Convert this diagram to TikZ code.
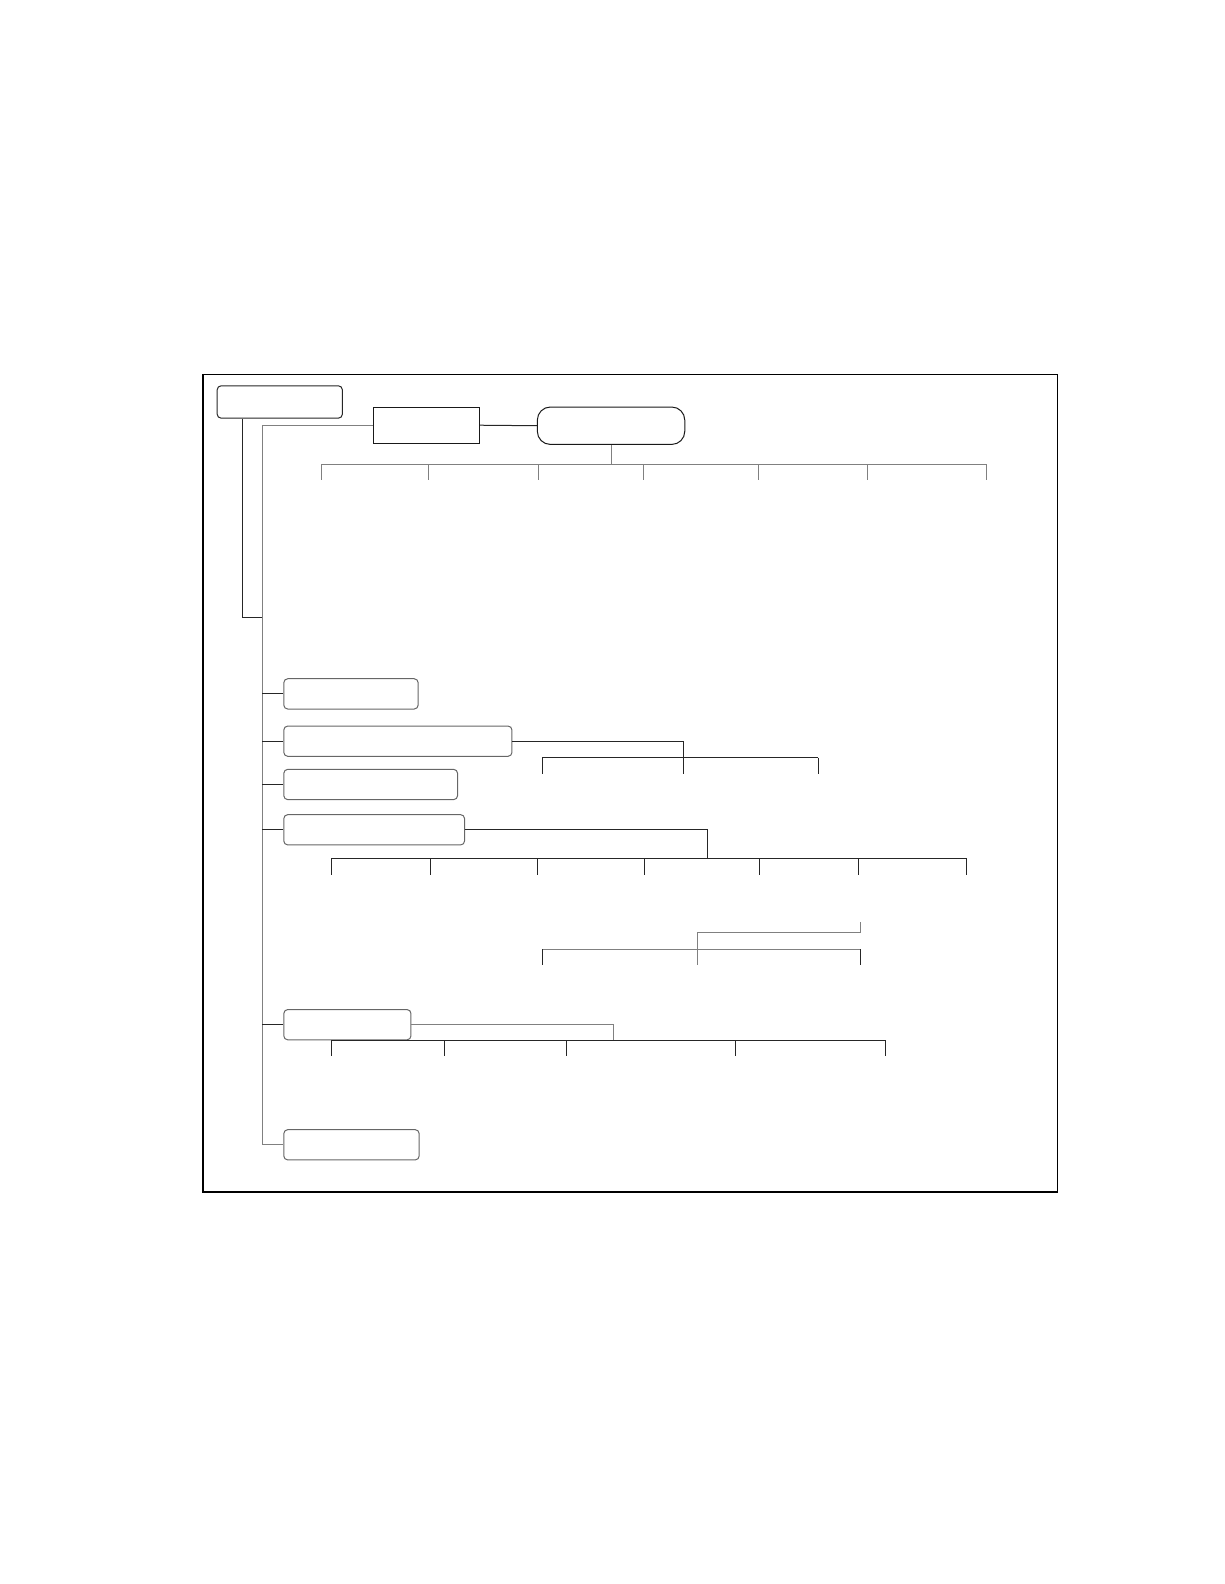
\documentclass[tikz,border=0pt]{standalone}
\usetikzlibrary{positioning}
\begin{document}
\begin{tikzpicture}[x=0.505pt, y=-0.505pt, line width=0.5pt,
  box/.style={draw=black!60, rounded corners=2pt, inner sep=0pt, minimum height=15.15pt},
  sqbox/.style={draw=black!90, inner sep=0pt},
  bus/.style={draw=black!50},
  link/.style={draw=black!85}]
\useasboundingbox (0,0) rectangle (1212,1568.3);
\draw[line width=0.75pt] (201,371) rectangle (1047,1180);

\node[box, draw=black!85, minimum width=62.6pt, minimum height=16.2pt] (A) at (277,398) {};
\node[sqbox, minimum width=53pt, minimum height=18.2pt] (B) at (422.5,421) {};
\node[sqbox, rounded corners=6.5pt, minimum width=73.7pt, minimum height=18.7pt] (C) at (605,421.5) {};
\node[box, minimum width=67.2pt] (D) at (347.5,687) {};
\node[box, minimum width=114.1pt, below=8pt of D.south west, anchor=north west] (E) {};
\node[box, minimum width=86.9pt, below=6pt of E.south west, anchor=north west] (F) {};
\node[box, minimum width=90.4pt, below=7pt of F.south west, anchor=north west] (G) {};
\node[box, minimum width=63.6pt, below=81.8pt of G.south west, anchor=north west] (H) {};
\node[box, minimum width=67.7pt, below=44.4pt of H.south west, anchor=north west] (I) {};

\coordinate (j) at (260,611);
\draw[link] ([xshift=13.1pt]A.south west) |- (j);
\draw[bus] (B.west) -- ++(-110,0) |- (I.west);
\foreach \n in {D,E,F,G,H} \draw[link] (\n.west) -- ++(-21,0);
\draw[link] (B.east) -- (C.west);

\coordinate (c1) at (318,460);
\coordinate (c2) at (977,460);
\draw[bus] (C.south) -- (C.south |- c1);
\draw[bus] (c1) -- (c2);
\foreach \x [count=\i] in {318,424,533,637,751,859,977} {
  \coordinate (ct\i) at (\x,475);
  \draw[bus] (ct\i |- c1) -- (ct\i);
}

\coordinate (e1) at (537,750);
\coordinate (e2) at (810,750);
\coordinate (et) at (677,766);
\draw[link] (E.east) -| (et);
\draw[link] (e1) -- (e2);
\foreach \c in {e1,e2} \draw[link] (\c) -- ++(0,16);

\coordinate (g1) at (328,850);
\coordinate (g2) at (957,850);
\coordinate (gt) at (700,850);
\draw[link] (G.east) -| (gt);
\draw[link] (g1) -- (g2);
\foreach \x [count=\i] in {328,426,532,638,752,850,957} {
  \coordinate (gt\i) at (\x,866);
  \draw[link] (gt\i |- g1) -- (gt\i);
}

\coordinate (x1) at (537,940);
\coordinate (x2) at (852,940);
\coordinate (x3) at (852,913);
\coordinate (xk) at (691,923);
\coordinate (xt) at (691,955);
\draw[bus] (x3) |- (xk) -- (xt);
\draw[bus] (x1) -- (x2);
\foreach \c in {x1,x2} \draw[link] (\c) -- ++(0,15);

\coordinate (h1) at (328,1030);
\coordinate (h2) at (877,1030);
\coordinate (hk) at (607,1030);
\draw[bus] (H.east) -| (hk);
\draw[link] (h1) -- (h2);
\foreach \x [count=\i] in {328,440,561,728,877} {
  \coordinate (ht\i) at (\x,1046);
  \draw[link] (ht\i |- h1) -- (ht\i);
}
\end{tikzpicture}
\end{document}
